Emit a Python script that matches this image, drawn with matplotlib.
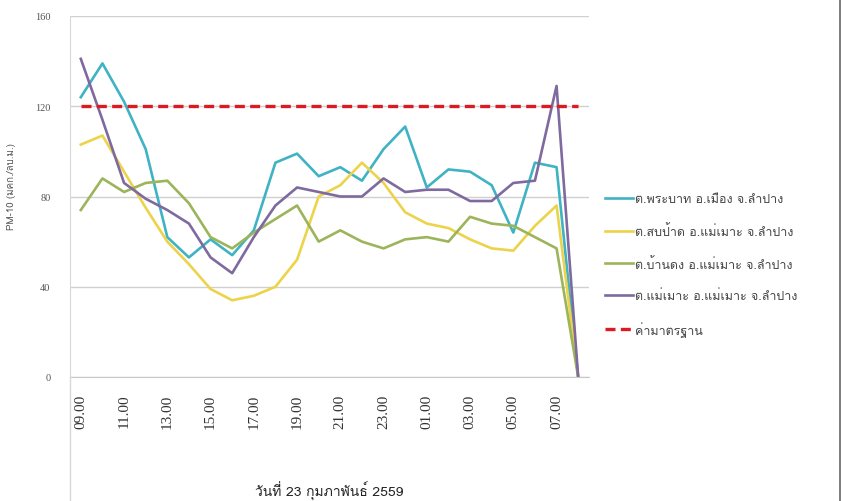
import matplotlib
matplotlib.use("Agg")
import matplotlib.pyplot as plt
from matplotlib import font_manager
from matplotlib.lines import Line2D


# pick an installed family that has Thai glyphs, if there is one
def find_thai_font():
    try:
        from fontTools.ttLib import TTFont
    except Exception:
        return None
    for f in font_manager.fontManager.ttflist:
        try:
            tt = TTFont(f.fname, fontNumber=0, lazy=True)
            cmap = tt.getBestCmap()
            if cmap and 0x0E01 in cmap and 0x0E48 in cmap:
                return f.name
        except Exception:
            continue
    return None


thai = find_thai_font()
families = [thai, "DejaVu Sans"] if thai else ["DejaVu Sans"]
plt.rcParams["font.family"] = families

# hourly categories, 09.00 on the 23rd through 08.00 next morning
hours = ["09.00", "10.00", "11.00", "12.00", "13.00", "14.00", "15.00", "16.00",
         "17.00", "18.00", "19.00", "20.00", "21.00", "22.00", "23.00", "24.00",
         "01.00", "02.00", "03.00", "04.00", "05.00", "06.00", "07.00", "08.00"]

phrabat = [124, 139, 122, 101, 62, 53, 61, 54, 65, 95, 99, 89, 93, 87, 101, 111,
           84, 92, 91, 85, 64, 95, 93, 0]
sob_pad = [103, 107, 91, 75, 60, 50, 39, 34, 36, 40, 52, 80, 85, 95, 86, 73,
           68, 66, 61, 57, 56, 67, 76, 0]
ban_dong = [74, 88, 82, 86, 87, 77, 62, 57, 64, 70, 76, 60, 65, 60, 57, 61,
            62, 60, 71, 68, 67, 62, 57, 0]
mae_moh = [141, 114, 86, 79, 74, 68, 53, 46, 62, 76, 84, 82, 80, 80, 88, 82,
           83, 83, 78, 78, 86, 87, 129, 0]
standard = 120

names = ["ต.พระบาท อ.เมือง จ.ลำปาง",
         "ต.สบป้าด อ.แม่เมาะ จ.ลำปาง",
         "ต.บ้านดง อ.แม่เมาะ จ.ลำปาง",
         "ต.แม่เมาะ อ.แม่เมาะ จ.ลำปาง",
         "ค่ามาตรฐาน"]
colors = ["#3fb3c4", "#ecd34a", "#9cb45a", "#7f6aa0"]

fig = plt.figure(figsize=(8.43, 5.02), dpi=100)
ax = fig.add_axes([70 / 843, 1 - 378 / 502, 519 / 843, 361 / 502])

x = list(range(len(hours)))
series = [phrabat, sob_pad, ban_dong, mae_moh]
for vals, c, n in zip(series, colors, names):
    ax.plot(x, vals, color=c, lw=1.9, label=n, solid_joinstyle="round")
ax.plot([x[0], x[-1]], [standard, standard], color="#dc1a22", lw=2.4,
        ls=(0, (3, 1.6)), label=names[4])

ax.set_xlim(-0.5, len(hours) - 0.5)
ax.set_ylim(0, 160)
ax.set_yticks([0, 40, 80, 120, 160])
ax.set_yticklabels([0, 40, 80, 120, 160], family="Liberation Serif")
ax.tick_params(axis="y", labelsize=7.5, colors="#555555", length=0, pad=14)
ax.set_xticks(x[::2])
ax.set_xticklabels(hours[::2], rotation=90, fontsize=11, color="#333333",
                   family="Liberation Serif")
ax.tick_params(axis="x", length=0, pad=12)
ax.grid(axis="y", color="#d0d0d0", lw=1)
ax.set_axisbelow(True)
for s in ["top", "right"]:
    ax.spines[s].set_visible(False)
ax.spines["left"].set_color("#d8d8d8")
ax.spines["bottom"].set_color("#c8c8c8")

ax.set_ylabel("PM-10 (มคก./ลบ.ม.)", fontsize=7, color="#555555", labelpad=11)
ax.yaxis.set_label_coords(-0.105, 0.53)
ax.set_xlabel("วันที่ 23 กุมภาพันธ์ 2559", fontsize=10, color="#222222", labelpad=38)

leg = ax.legend(loc="upper left", bbox_to_anchor=(1.01, 0.54), frameon=False,
                fontsize=9, handlelength=2.2, handletextpad=0.2,
                labelspacing=1.5, labelcolor="#444444")

# frame lines around the chart picture
fig.add_artist(Line2D([70 / 843, 70 / 843], [0, 1 - 378 / 502], color="#d8d8d8", lw=1))
fig.add_artist(Line2D([0.996, 0.996], [0, 1], color="#666666", lw=1.2))

fig.savefig("out.png", dpi=100)
